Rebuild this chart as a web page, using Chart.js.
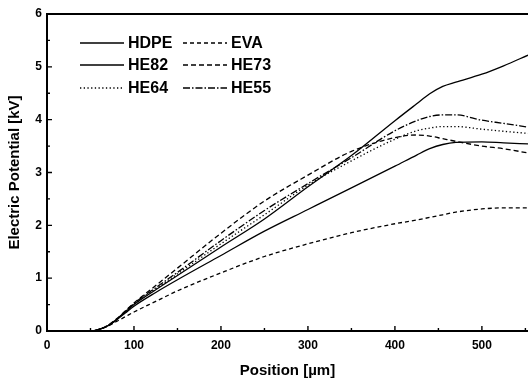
<!DOCTYPE html>
<html>
<head>
<meta charset="utf-8">
<script src="https://cdn.jsdelivr.net/npm/chart.js@4.4.0/dist/chart.umd.min.js"></script>
<style>
html,body{margin:0;padding:0;background:#fff;}
#wrap{width:528px;height:380px;position:relative;}
</style>
</head>
<body>
<div id="wrap"><canvas id="potCanvas"></canvas></div>
<script>
var positions=[0,50,60,70,80,90,100,125,150,200,250,300,350,400,425,440,455,470,500,525,553];
// electric potential (kV) for each material
var hdpe=[0,0,0.03,0.1,0.22,0.36,0.5,0.78,1.05,1.59,2.12,2.73,3.32,3.98,4.3,4.49,4.63,4.71,4.86,5.02,5.22];
var eva =[0,0,0.03,0.09,0.18,0.27,0.36,0.56,0.76,1.1,1.41,1.65,1.86,2.03,2.1,2.15,2.2,2.25,2.31,2.33,2.33];
var he82=[0,0,0.03,0.1,0.21,0.34,0.47,0.73,0.97,1.43,1.89,2.3,2.71,3.12,3.33,3.45,3.53,3.57,3.58,3.56,3.54];
var he73=[0,0,0.03,0.11,0.23,0.38,0.53,0.86,1.19,1.85,2.46,2.95,3.4,3.66,3.71,3.69,3.64,3.59,3.5,3.45,3.37];
var he64=[0,0,0.03,0.1,0.22,0.37,0.51,0.8,1.08,1.65,2.2,2.76,3.22,3.63,3.79,3.84,3.87,3.87,3.82,3.78,3.74];
var he55=[0,0,0.03,0.1,0.22,0.37,0.52,0.82,1.11,1.71,2.28,2.79,3.28,3.79,3.98,4.06,4.09,4.09,3.99,3.93,3.86];
var xTickValues=[0,100,200,300,400,500];
var yTickValues=[0,1,2,3,4,5,6];

var fontFam='"Liberation Sans", Arial, sans-serif';

function pts(vals){
    var out=[];
    for(var i=0;i<positions.length;i++){
        out.push({x:positions[i],y:vals[i]});
    }
    return out;
}

function serie(label,vals,dash){
    return {
        label:label,
        data:pts(vals),
        borderColor:'#000',
        borderWidth:1.3,
        borderDash:dash,
        pointRadius:0,
        fill:false,
        cubicInterpolationMode:'monotone'
    };
}

//inward tick marks + frame, like the original plot
var frameTicks={
    id:'frameTicks',
    afterDatasetsDraw(chart){
        var ctx=chart.ctx, a=chart.chartArea, xs=chart.scales.x, ys=chart.scales.y;
        ctx.save();
        ctx.strokeStyle='#000';
        ctx.lineWidth=2;
        ctx.beginPath();
        ctx.moveTo(a.right,a.top); ctx.lineTo(a.left,a.top);
        ctx.lineTo(a.left,a.bottom); ctx.lineTo(a.right,a.bottom);
        ctx.stroke();
        ctx.lineWidth=1.4;
        ctx.beginPath();
        for(var v=0;v<=xs.max;v+=50){
            var px=xs.getPixelForValue(v);
            var len=(v%100===0)?5:3;
            ctx.moveTo(px,a.bottom); ctx.lineTo(px,a.bottom-len);
        }
        for(var w=0;w<=ys.max;w+=0.5){
            var py=ys.getPixelForValue(w);
            var l2=(w%1===0)?5:3;
            ctx.moveTo(a.left,py); ctx.lineTo(a.left+l2,py);
        }
        ctx.stroke();
        ctx.restore();
    }
};

//legend drawn inside the plot, two columns
var innerLegend={
    id:'innerLegend',
    afterDraw(chart){
        var ctx=chart.ctx;
        var cols=[80,183], rows=[43,65,88];
        ctx.save();
        ctx.strokeStyle='#000';
        ctx.fillStyle='#000';
        ctx.font='bold 16px '+fontFam;
        ctx.textBaseline='middle';
        chart.data.datasets.forEach(function(ds,i){
            var x=cols[i%2], y=rows[Math.floor(i/2)];
            ctx.lineWidth=ds.borderWidth;
            ctx.setLineDash(ds.borderDash||[]);
            ctx.beginPath();
            ctx.moveTo(x,y); ctx.lineTo(x+44,y);
            ctx.stroke();
            ctx.setLineDash([]);
            ctx.fillText(ds.label,x+48,y+1);
        });
        ctx.restore();
    }
};

const potCanvas=document.getElementById('potCanvas').getContext('2d');
let potChart=new Chart(potCanvas,{
    type:'line',
    data:{
        datasets:[
            serie('HDPE',hdpe,[]),
            serie('EVA',eva,[4,3]),
            serie('HE82',he82,[]),
            serie('HE73',he73,[5,3]),
            serie('HE64',he64,[1.3,2.4]),
            serie('HE55',he55,[7,2,1.5,2])
        ]
    },
    options:{
        responsive:true,
        maintainAspectRatio:false,
        animation:false,
        layout:{padding:{top:14,right:0,left:0,bottom:0}},
        plugins:{legend:{display:false},tooltip:{enabled:false}},
        scales:{
            x:{
                type:'linear',
                min:0,
                max:553,
                grid:{display:false,drawTicks:false},
                border:{display:false},
                afterBuildTicks:function(s){ s.ticks=xTickValues.map(function(v){return {value:v};}); },
                afterFit:function(s){ s.height=49; s.paddingLeft=0; s.paddingRight=0; },
                ticks:{color:'#000',padding:7,maxRotation:0,font:{family:fontFam,size:12,weight:'bold'}},
                title:{display:true,text:'Position [\u00b5m]',color:'#000',padding:{top:0,bottom:0},font:{family:fontFam,size:15,weight:'bold'}}
            },
            y:{
                min:0,
                max:6,
                grid:{display:false,drawTicks:false},
                border:{display:false},
                afterBuildTicks:function(s){ s.ticks=yTickValues.map(function(v){return {value:v};}); },
                afterFit:function(s){ s.width=47; s.paddingTop=0; s.paddingBottom=0; },
                ticks:{color:'#000',padding:5,font:{family:fontFam,size:12,weight:'bold'}},
                title:{display:true,text:'Electric Potential [kV]',color:'#000',padding:{top:6,bottom:0},font:{family:fontFam,size:15,weight:'bold'}}
            }
        }
    },
    plugins:[frameTicks,innerLegend]
});
</script>
</body>
</html>
